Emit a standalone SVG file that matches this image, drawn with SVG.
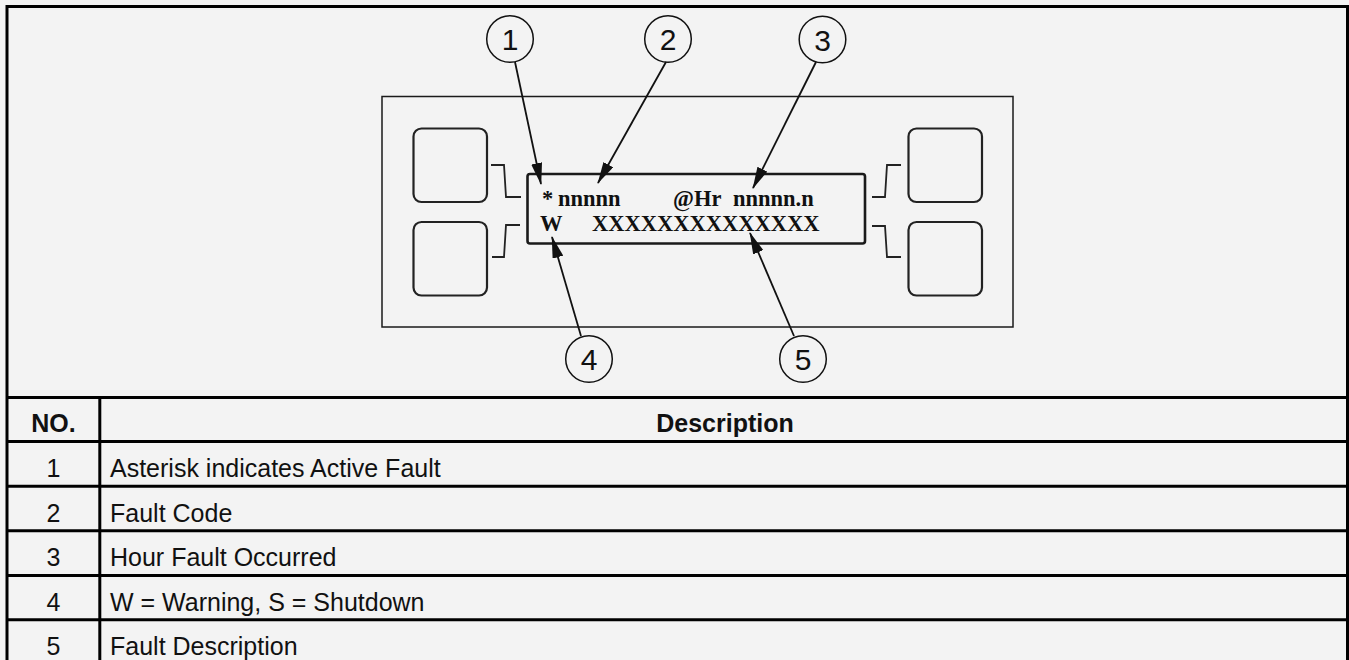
<svg xmlns="http://www.w3.org/2000/svg" width="1349" height="660" viewBox="0 0 1349 660">
<style>
.frame{fill:none;stroke:#000;stroke-width:3}
.panel{fill:none;stroke:#1a1a1a;stroke-width:1.5}
.btn{fill:none;stroke:#222;stroke-width:2.2}
.lcd{fill:none;stroke:#1a1a1a;stroke-width:2.6}
.link{fill:none;stroke:#222;stroke-width:1.8;stroke-linejoin:miter}
.callout{fill:none;stroke:#111;stroke-width:1.5}
.conn{fill:none;stroke:#111;stroke-width:1.8}
.num{font-family:"Liberation Sans",Arial,sans-serif;font-size:30px;fill:#111;text-anchor:middle}
.lcdt{font-family:"Liberation Serif","Times New Roman",serif;font-size:22.5px;font-weight:bold;fill:#111}
.th{font-family:"Liberation Sans",Arial,sans-serif;font-size:25px;font-weight:bold;fill:#111}
.td{font-family:"Liberation Sans",Arial,sans-serif;font-size:25px;fill:#111}
.c{text-anchor:middle}
</style>
<defs>
<marker id="ah" markerUnits="userSpaceOnUse" markerWidth="22" markerHeight="11" refX="21" refY="5.5" orient="auto">
<path d="M0,0 L22,5.5 L0,11 z" fill="#111"/>
</marker>
</defs>
<rect x="0" y="0" width="1349" height="660" fill="#f3f3f3"/>
<g id="frame">
<path class="frame" d="M7,670 V6.5 H1347.5 V670"/>
<line class="frame" x1="7" y1="397.5" x2="1347.5" y2="397.5"/>
<line class="frame" x1="7" y1="441.5" x2="1347.5" y2="441.5"/>
<line class="frame" x1="7" y1="486.3" x2="1347.5" y2="486.3"/>
<line class="frame" x1="7" y1="530.8" x2="1347.5" y2="530.8"/>
<line class="frame" x1="7" y1="575.6" x2="1347.5" y2="575.6"/>
<line class="frame" x1="7" y1="619.8" x2="1347.5" y2="619.8"/>
<line class="frame" x1="99.8" y1="397.5" x2="99.8" y2="670"/>
</g>
<g id="panel">
<rect class="panel" x="382" y="96.5" width="631" height="230.5"/>
</g>
<g id="button-left-top"><rect class="btn" x="413.5" y="128.5" width="73.5" height="73.5" rx="8"/></g>
<g id="button-left-bottom"><rect class="btn" x="413.5" y="222" width="73.5" height="73.5" rx="8"/></g>
<g id="button-right-top"><rect class="btn" x="908.5" y="128.5" width="73.5" height="73.5" rx="8"/></g>
<g id="button-right-bottom"><rect class="btn" x="908.5" y="222" width="73.5" height="73.5" rx="8"/></g>
<g id="lcd">
<rect class="lcd" x="527.5" y="174" width="337.5" height="69.5" rx="2.5"/>
<text class="lcdt" y="206"><tspan x="542">*</tspan><tspan x="558">nnnnn</tspan><tspan x="673">@Hr</tspan><tspan x="733">nnnnn.n</tspan></text>
<text class="lcdt" y="231"><tspan x="540">W</tspan><tspan x="592">XXXXXXXXXXXXXX</tspan></text>
</g>
<g id="links">
<polyline class="link" points="491,165 504,165 506,197 521,197"/>
<polyline class="link" points="520,225 506,225 504,257 492,257"/>
<polyline class="link" points="872,197 885,197 887,165 901,165"/>
<polyline class="link" points="872,226 885,226 887,257 901,257"/>
</g>
<g id="callout-1"><circle class="callout" cx="510" cy="39" r="23.3"/><text class="num" x="510" y="50">1</text></g>
<g id="callout-2"><circle class="callout" cx="668" cy="39" r="23.3"/><text class="num" x="668" y="50">2</text></g>
<g id="callout-3"><circle class="callout" cx="822.5" cy="39.5" r="23.3"/><text class="num" x="822.5" y="50.5">3</text></g>
<g id="callout-4"><circle class="callout" cx="589" cy="359" r="23.3"/><text class="num" x="589" y="370">4</text></g>
<g id="callout-5"><circle class="callout" cx="803" cy="359" r="23.3"/><text class="num" x="803" y="370">5</text></g>
<g id="connectors">
<line class="conn" x1="515" y1="62" x2="541" y2="184" marker-end="url(#ah)"/>
<line class="conn" x1="666" y1="62" x2="598" y2="183" marker-end="url(#ah)"/>
<line class="conn" x1="816" y1="62" x2="753" y2="188" marker-end="url(#ah)"/>
<line class="conn" x1="581" y1="336" x2="552" y2="237" marker-end="url(#ah)"/>
<line class="conn" x1="794" y1="336" x2="750" y2="233" marker-end="url(#ah)"/>
</g>
<g id="table">
<text class="th c" x="53.5" y="432">NO.</text>
<text class="th c" x="725" y="432">Description</text>
<text class="td c" x="53.5" y="477">1</text>
<text class="td" x="110" y="477">Asterisk indicates Active Fault</text>
<text class="td c" x="53.5" y="521.5">2</text>
<text class="td" x="110" y="521.5">Fault Code</text>
<text class="td c" x="53.5" y="566">3</text>
<text class="td" x="110" y="566">Hour Fault Occurred</text>
<text class="td c" x="53.5" y="610.5">4</text>
<text class="td" x="110" y="610.5">W = Warning, S = Shutdown</text>
<text class="td c" x="53.5" y="655">5</text>
<text class="td" x="110" y="655">Fault Description</text>
</g>
</svg>
